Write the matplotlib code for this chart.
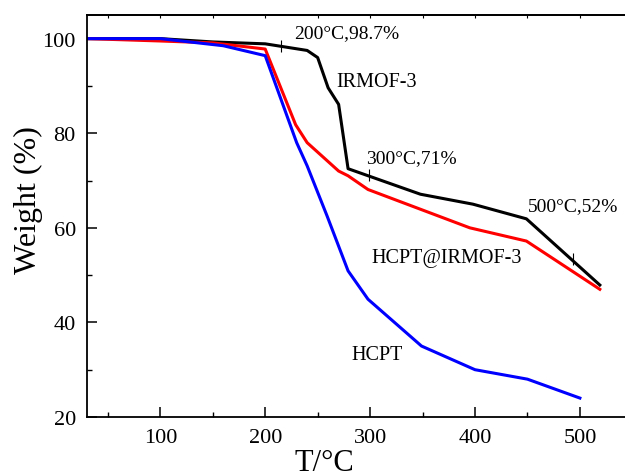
import matplotlib
matplotlib.use("Agg")
import matplotlib.pyplot as plt
from matplotlib.ticker import MultipleLocator

# TGA curves
irmof_T = [30, 100, 150, 200, 240, 250, 260, 270, 279, 348, 398, 449, 519]
irmof_w = [100, 100, 99.3, 98.9, 97.5, 96.0, 89.6, 86.1, 72.5, 67.1, 65.0, 61.9, 47.9]

hcpt_irmof_T = [30, 100, 150, 200, 229, 240, 270, 279, 298, 395, 449, 519]
hcpt_irmof_w = [100, 99.5, 99.1, 97.8, 81.8, 78.0, 72.0, 71.0, 68.1, 60.0, 57.2, 47.0]

hcpt_T = [30, 100, 160, 200, 230, 240, 259, 279, 298, 349, 400, 450, 500]
hcpt_w = [100, 100, 98.5, 96.4, 78.0, 73.1, 62.5, 50.9, 44.9, 35.0, 30.0, 28.0, 24.0]

# points marked with a short vertical tick on the IRMOF-3 curve
mark_T = [215, 299, 493]
mark_w = [98.5, 71.1, 53.3]

plt.rcParams['font.family'] = ['Liberation Serif', 'DejaVu Serif']

fig = plt.figure(figsize=(6.25, 4.77), dpi=100)
ax = fig.add_axes([0.139, 0.1237, 0.861, 0.8428])

ax.plot(irmof_T, irmof_w, color='black', linewidth=2.2)
ax.plot(hcpt_irmof_T, hcpt_irmof_w, color='#ff0000', linewidth=2.2)
ax.plot(hcpt_T, hcpt_w, color='#0000ff', linewidth=2.2)
ax.plot(mark_T, mark_w, linestyle='none', marker='|', color='black',
        markersize=9, markeredgewidth=0.8)

ax.text(228, 101.3, '200°C,98.7%', fontsize=14, va='center')
ax.text(268, 90.9, 'IRMOF-3', fontsize=14.5, va='center')
ax.text(296, 74.8, '300°C,71%', fontsize=14, va='center')
ax.text(450, 64.6, '500°C,52%', fontsize=14, va='center')
ax.text(301, 53.7, 'HCPT@IRMOF-3', fontsize=14.5, va='center')
ax.text(282, 33.3, 'HCPT', fontsize=14.5, va='center')

ax.set_xlim(30, 543)
ax.set_ylim(20, 105)
ax.xaxis.set_major_locator(MultipleLocator(100))
ax.xaxis.set_minor_locator(MultipleLocator(50))
ax.yaxis.set_major_locator(MultipleLocator(20))
ax.yaxis.set_minor_locator(MultipleLocator(10))
ax.tick_params(which='major', direction='in', length=7, width=1.1, labelsize=16, pad=8)
ax.tick_params(which='minor', direction='in', length=3.5, width=1.0)
for s in ax.spines.values():
    s.set_linewidth(1.3)
ax.spines['right'].set_visible(False)

# tiny marks along the top frame
top = ax.secondary_xaxis('top')
top.xaxis.set_major_locator(MultipleLocator(50))
top.tick_params(direction='in', length=2, width=0.8, labeltop=False)
top.spines['top'].set_linewidth(1.3)

ax.set_xlabel('T/°C', fontsize=22)
ax.xaxis.set_label_coords(0.4405, -0.077)
ax.set_ylabel('Weight (%)', fontsize=23)
ax.yaxis.set_label_coords(-0.082, 0.542)

fig.savefig('out.png', dpi=100)
